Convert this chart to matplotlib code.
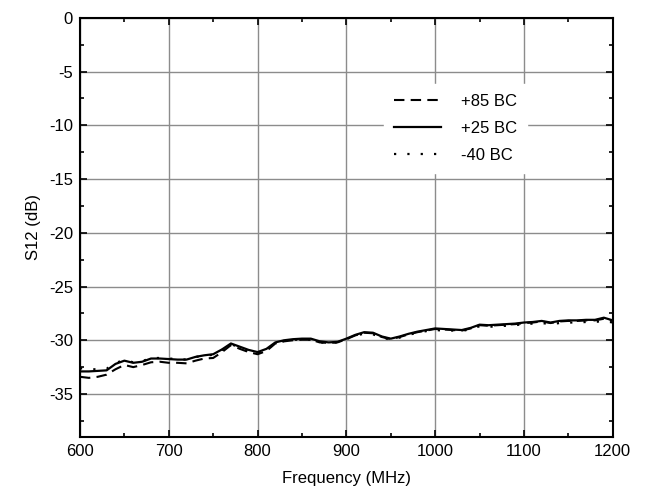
"""S12 vs frequency at three temperatures (Origin-style plot)."""

import matplotlib

matplotlib.use("Agg")
import matplotlib.pyplot as plt
from matplotlib.ticker import MultipleLocator

plt.rcParams["font.family"] = ["Liberation Sans", "DejaVu Sans"]
plt.rcParams["axes.unicode_minus"] = False

# frequency grid, MHz
freq = list(range(600, 1201, 10))

# +25 C (solid)
s12_p25 = [
    -32.90, -32.90, -32.85, -32.80, -32.20, -31.90, -32.10, -32.00, -31.70, -31.70,
    -31.75, -31.80, -31.80, -31.55, -31.40, -31.30, -30.85, -30.30, -30.60, -30.90,
    -31.10, -30.80, -30.20, -30.00, -29.90, -29.85, -29.85, -30.10, -30.20, -30.15,
    -29.85, -29.50, -29.25, -29.30, -29.65, -29.85, -29.65, -29.40, -29.20, -29.05,
    -28.90, -28.95, -29.00, -29.05, -28.85, -28.55, -28.60, -28.55, -28.50, -28.45,
    -28.35, -28.30, -28.20, -28.35, -28.20, -28.15, -28.15, -28.10, -28.10, -27.90,
    -28.15,
]

# +85 C (dashed)
s12_p85 = [
    -33.40, -33.50, -33.40, -33.20, -32.70, -32.30, -32.50, -32.30, -32.05, -32.00,
    -32.10, -32.10, -32.15, -31.90, -31.70, -31.65, -31.10, -30.45, -30.80, -31.10,
    -31.30, -31.00, -30.30, -30.10, -30.00, -29.95, -29.95, -30.20, -30.25, -30.20,
    -29.90, -29.55, -29.30, -29.35, -29.70, -29.90, -29.70, -29.45, -29.25, -29.10,
    -28.95, -29.00, -29.05, -29.10, -28.90, -28.60, -28.65, -28.60, -28.55, -28.50,
    -28.40, -28.35, -28.25, -28.40, -28.25, -28.20, -28.20, -28.15, -28.15, -28.00,
    -28.20,
]

# -40 C (dotted)
s12_m40 = [
    -32.60, -32.70, -32.70, -32.65, -32.10, -31.85, -32.05, -31.95, -31.65, -31.65,
    -31.70, -31.75, -31.80, -31.55, -31.45, -31.35, -30.90, -30.35, -30.70, -31.00,
    -31.20, -30.90, -30.25, -30.05, -29.95, -29.95, -29.95, -30.20, -30.25, -30.20,
    -29.90, -29.55, -29.40, -29.45, -29.75, -29.95, -29.75, -29.50, -29.30, -29.15,
    -29.05, -29.10, -29.10, -29.15, -28.95, -28.70, -28.75, -28.70, -28.65, -28.60,
    -28.50, -28.45, -28.40, -28.50, -28.40, -28.35, -28.35, -28.30, -28.30, -28.20,
    -28.35,
]

labels = ["+85 BC", "+25 BC", "-40 BC"]

fig = plt.figure(figsize=(6.45, 4.96), dpi=100)
ax = fig.add_axes([0.124, 0.119, 0.826, 0.845])

ax.plot(freq, s12_p85, color="black", linewidth=1.5, linestyle=(0, (5, 3)),
        label=labels[0])
ax.plot(freq, s12_p25, color="black", linewidth=1.6, linestyle="-",
        label=labels[1])
ax.plot(freq, s12_m40, color="black", linewidth=1.6, linestyle=(0, (1, 5)),
        label=labels[2])

ax.set_xlim(600, 1200)
ax.set_ylim(-39, 0)
ax.xaxis.set_major_locator(MultipleLocator(100))
ax.xaxis.set_minor_locator(MultipleLocator(50))
ax.yaxis.set_major_locator(MultipleLocator(5))
ax.yaxis.set_minor_locator(MultipleLocator(2.5))

ax.grid(True, which="major", color="#8c8c8c", linewidth=1.0)
ax.set_axisbelow(True)

ax.tick_params(which="both", direction="in", top=True, right=True,
               labelsize=12, width=1.2)
ax.tick_params(which="major", length=5, pad=5)
ax.tick_params(which="minor", length=3)
for spine in ax.spines.values():
    spine.set_linewidth(1.5)

ax.set_xlabel("Frequency (MHz)", fontsize=12, labelpad=9)
ax.set_ylabel("S12 (dB)", fontsize=12, labelpad=6)

leg = ax.legend(loc="upper left", bbox_to_anchor=(0.555, 0.862), frameon=True,
                fontsize=12, handlelength=2.8, handletextpad=1.2,
                labelspacing=0.72, borderpad=0.6, fancybox=False)
leg.get_frame().set_edgecolor("white")
leg.get_frame().set_facecolor("white")
leg.get_frame().set_alpha(1.0)

fig.savefig("out.png", dpi=100)
